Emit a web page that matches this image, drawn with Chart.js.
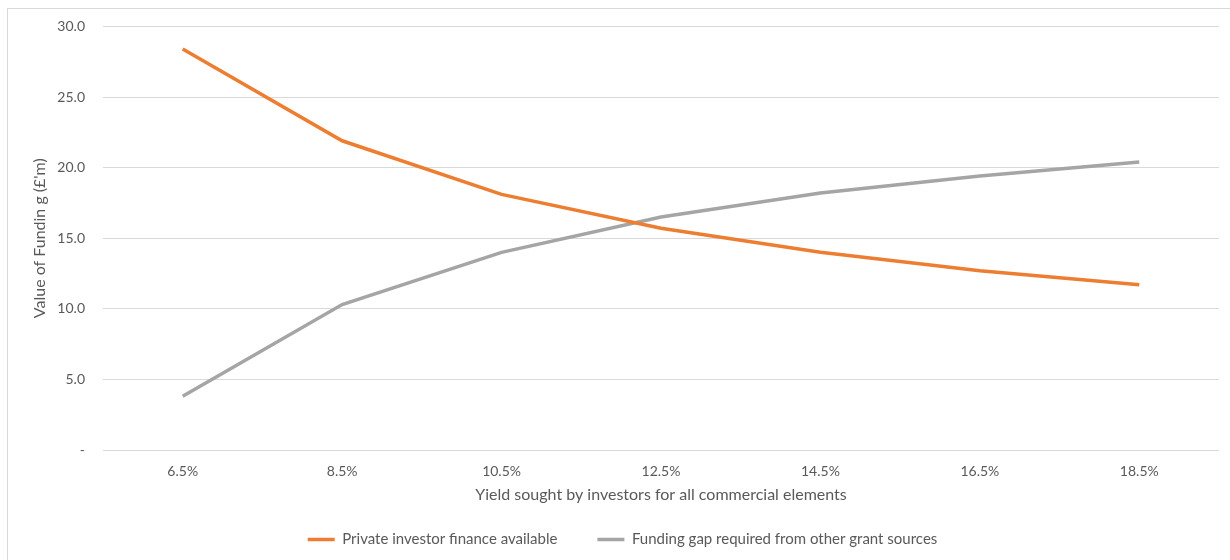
<!DOCTYPE html>
<html>
<head>
<meta charset="utf-8">
<script src="https://cdn.jsdelivr.net/npm/chart.js@4/dist/chart.umd.min.js"></script>
<style>
    body { margin: 0; background: #fff; }
    #frame { position: absolute; left: 7px; top: 8px; width: 1240px; height: 570px; border: 1px solid #d9d9d9; }
    #wrap { position: absolute; left: 0; top: 0; width: 1230px; height: 560px; }
</style>
</head>
<body>
<div id="frame"></div>
<div id="wrap"><canvas id="myChart" width="1230" height="560"></canvas></div>
<script>
const yields = ['6.5%', '8.5%', '10.5%', '12.5%', '14.5%', '16.5%', '18.5%'];
const privateFinance = [28.4, 21.9, 18.1, 15.7, 14.0, 12.7, 11.7];
const fundingGap = [3.8, 10.3, 14.0, 16.5, 18.2, 19.4, 20.4];
const yTicks = [0, 5, 10, 15, 20, 25, 30];

document.addEventListener('DOMContentLoaded', function() {
    const txt = '#595959';
    const font = { family: 'Lato', size: 14 };
    const ctx = document.getElementById('myChart').getContext('2d');
    const myChart = new Chart(ctx, {
        type: 'line',
        data: {
            labels: yields,
            datasets: [{
                label: 'Private investor finance available',
                data: privateFinance,
                borderColor: '#ED7D31',
                backgroundColor: '#ED7D31',
                borderWidth: 3.5,
                pointRadius: 0,
                lineTension: 0
            }, {
                label: 'Funding gap required from other grant sources',
                data: fundingGap,
                borderColor: '#A5A5A5',
                backgroundColor: '#A5A5A5',
                borderWidth: 3.5,
                pointRadius: 0,
                lineTension: 0
            }]
        },
        options: {
            responsive: false,
            animation: false,
            layout: { padding: { left: 26, right: 11, top: 23, bottom: 3 } },
            scales: {
                x: {
                    offset: true,
                    grid: { display: false },
                    border: { display: false },
                    ticks: { color: txt, font: font, padding: 5 },
                    title: { display: true, text: 'Yield sought by investors for all commercial elements', color: txt, font: { family: 'Lato', size: 16 }, padding: { top: 0, bottom: -12 } },
                    afterFit: function(scale) { scale.height = 42; }
                },
                y: {
                    min: 0,
                    max: 30,
                    afterBuildTicks: function(scale) {
                        scale.ticks = yTicks.map(v => ({ value: v }));
                    },
                    grid: { color: '#D9D9D9', drawTicks: false },
                    border: { display: false },
                    ticks: {
                        color: txt,
                        font: font,
                        padding: 18,
                        callback: function(value) {
                            return value === 0 ? '-' : value.toFixed(1);
                        }
                    },
                    title: { display: true, text: "Value of Fundin g (£'m)", color: txt, font: { family: 'Lato', size: 16 } },
                    afterFit: function(scale) { scale.width = 77; }
                }
            },
            plugins: {
                legend: {
                    position: 'bottom',
                    labels: {
                        color: txt,
                        font: { family: 'Lato', size: 15 },
                        usePointStyle: true,
                        pointStyle: 'line',
                        pointStyleWidth: 27,
                        padding: 40
                    }
                },
                tooltip: { enabled: false }
            }
        }
    });
});
</script>
</body>
</html>
